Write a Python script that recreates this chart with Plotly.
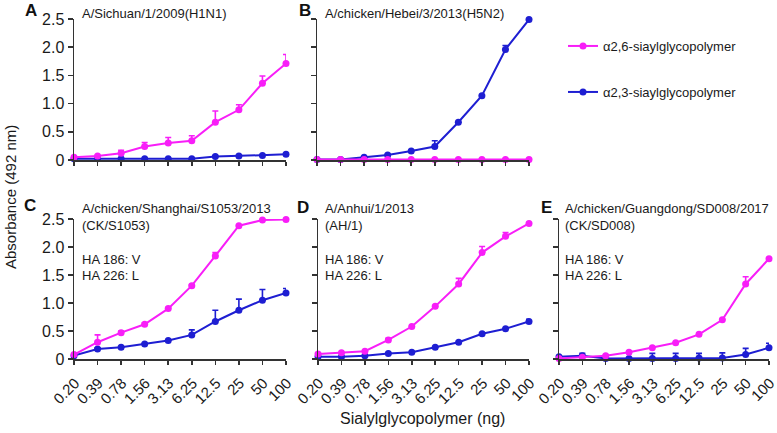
import plotly.graph_objects as go

# ---------------- data ----------------
doses = ["0.20", "0.39", "0.78", "1.56", "3.13", "6.25", "12.5", "25", "50", "100"]
y_ticks = [0, 0.5, 1.0, 1.5, 2.0, 2.5]
y_ticktext = ["0", "0.5", "1.0", "1.5", "2.0", "2.5"]

series_names = ["α2,6-siaylglycopolymer", "α2,3-siaylglycopolymer"]

a26_A = [0.05, 0.07, 0.12, 0.24, 0.30, 0.34, 0.67, 0.89, 1.36, 1.71]
a26_A_err = [0, 0, 0.05, 0.07, 0.10, 0.09, 0.20, 0.09, 0.13, 0.16]
a23_A = [0.02, 0.02, 0.02, 0.02, 0.02, 0.02, 0.06, 0.07, 0.08, 0.10]
a23_A_err = [0, 0, 0, 0, 0, 0, 0, 0, 0, 0]

a26_B = [0.01, 0.01, 0.01, 0.01, 0.01, 0.01, 0.01, 0.01, 0.01, 0.01]
a26_B_err = [0, 0, 0, 0, 0, 0, 0, 0, 0, 0]
a23_B = [0.01, 0.01, 0.05, 0.09, 0.16, 0.24, 0.67, 1.14, 1.96, 2.49]
a23_B_err = [0, 0, 0, 0, 0, 0.10, 0, 0, 0.07, 0]

a26_C = [0.08, 0.30, 0.47, 0.62, 0.90, 1.31, 1.84, 2.38, 2.48, 2.49]
a26_C_err = [0, 0.13, 0.03, 0.02, 0.02, 0.02, 0.06, 0, 0, 0]
a23_C = [0.06, 0.18, 0.21, 0.27, 0.33, 0.43, 0.67, 0.87, 1.05, 1.18]
a23_C_err = [0, 0.02, 0, 0, 0, 0.09, 0.20, 0.20, 0.19, 0.08]

a26_D = [0.09, 0.11, 0.14, 0.34, 0.58, 0.94, 1.34, 1.90, 2.19, 2.42]
a26_D_err = [0, 0, 0, 0.03, 0, 0, 0.10, 0.11, 0.07, 0]
a23_D = [0.04, 0.04, 0.06, 0.10, 0.12, 0.21, 0.30, 0.45, 0.54, 0.67]
a23_D_err = [0, 0, 0, 0, 0, 0, 0, 0, 0, 0.04]

a26_E = [0.01, 0.03, 0.06, 0.12, 0.20, 0.29, 0.44, 0.70, 1.34, 1.79]
a26_E_err = [0, 0, 0, 0, 0, 0, 0, 0, 0.13, 0]
a23_E = [0.04, 0.06, 0.01, 0.01, 0.01, 0.01, 0.02, 0.02, 0.08, 0.20]
a23_E_err = [0, 0.04, 0, 0, 0.09, 0.09, 0.08, 0.09, 0.11, 0.08]

panel_letters = ["A", "B", "C", "D", "E"]
panel_titles = [
    ["A/Sichuan/1/2009(H1N1)"],
    ["A/chicken/Hebei/3/2013(H5N2)"],
    ["A/chicken/Shanghai/S1053/2013", "(CK/S1053)"],
    ["A/Anhui/1/2013", "(AH/1)"],
    ["A/chicken/Guangdong/SD008/2017", "(CK/SD008)"],
]
panel_notes = [[], [], ["HA 186: V", "HA 226: L"], ["HA 186: V", "HA 226: L"], ["HA 186: V", "HA 226: L"]]

x_title = "Sialylglycopolymer (ng)"
y_title = "Absorbance (492 nm)"

# ---------------- layout helpers ----------------
W, H = 777, 433
MAG = "#F81EF8"
BLU = "#1E1ED2"
FONT = "Arial, Liberation Sans, sans-serif"


def fx(p):
    return p / W


def fy(p):
    return 1 - p / H


# pixel boxes of each panel: (x0, x1, ytop, ybottom)
boxes = [
    (74, 286, 19, 160),
    (317, 529, 19, 160),
    (74, 286, 219, 359),
    (318, 529, 219, 359),
    (559, 769, 219, 359),
]

data26 = [(a26_A, a26_A_err), (a26_B, a26_B_err), (a26_C, a26_C_err), (a26_D, a26_D_err), (a26_E, a26_E_err)]
data23 = [(a23_A, a23_A_err), (a23_B, a23_B_err), (a23_C, a23_C_err), (a23_D, a23_D_err), (a23_E, a23_E_err)]

xidx = list(range(len(doses)))

fig = go.Figure()
layout = dict(
    width=W, height=H,
    margin=dict(l=0, r=0, t=0, b=0, pad=0, autoexpand=False),
    paper_bgcolor="white", plot_bgcolor="white",
    font=dict(family=FONT, color="#1a1a1a"),
    showlegend=True,
)

annotations = []

for i in range(5):
    sfx = "" if i == 0 else str(i + 1)
    xa, ya = "x" + sfx, "y" + sfx
    x0, x1, yt, yb = boxes[i]
    bottom = i >= 2
    first_col = i in (0, 2)

    for (vals, err), color, name, leg in [
        (data23[i], BLU, series_names[1], "legend2"),
        (data26[i], MAG, series_names[0], "legend"),
    ]:
        fig.add_trace(go.Scatter(
            x=xidx, y=vals, xaxis=xa, yaxis=ya,
            mode="lines+markers", name=name,
            line=dict(color=color, width=2),
            marker=dict(color=color, size=7, symbol="circle"),
            error_y=dict(type="data", array=err, arrayminus=[0] * len(err), symmetric=False,
                         color=color, thickness=1.6, width=3),
            cliponaxis=False,
            showlegend=(i == 0), legend=leg,
        ))

    layout["xaxis" + sfx] = dict(
        domain=[fx(x0), fx(x1)], anchor=ya, range=[0, 9], automargin=False,
        tickmode="array", tickvals=xidx, ticktext=doses,
        showticklabels=bottom, tickangle=-45,
        ticklabelstandoff=4, ticklabelshift=1, ticklabeloverflow="allow",
        tickfont=dict(size=15, family=FONT, color="#1a1a1a"),
        ticks="outside", ticklen=4, tickwidth=1.5, tickcolor="#333",
        showline=True, linecolor="#333", linewidth=1.5,
        showgrid=False, zeroline=False, fixedrange=True,
    )
    layout["yaxis" + sfx] = dict(
        domain=[fy(yb), fy(yt)], anchor=xa, range=[0, 2.5], automargin=False,
        tickmode="array", tickvals=y_ticks, ticktext=y_ticktext,
        showticklabels=first_col, ticklabeloverflow="allow",
        tickfont=dict(size=16, family=FONT, color="#1a1a1a"),
        ticks="outside", ticklen=5, tickwidth=1.5, tickcolor="#333",
        showline=True, linecolor="#333", linewidth=1.5,
        showgrid=False, zeroline=False, fixedrange=True,
    )

# panel letters, titles and notes (pixel positions)
letter_pos = [(31, 11), (305, 11), (30, 206), (303, 207), (546, 207)]
title_x = [80, 323, 80, 323, 563]
title_y0 = [14, 14, 209, 209, 209]
note_y0 = 259
for i in range(5):
    lx, ly = letter_pos[i]
    annotations.append(dict(text="<b>%s</b>" % panel_letters[i], x=fx(lx), y=fy(ly),
                            xref="paper", yref="paper", showarrow=False,
                            xanchor="center", yanchor="middle",
                            font=dict(size=17, family=FONT, color="#111")))
    for k, line in enumerate(panel_titles[i]):
        annotations.append(dict(text=line, x=fx(title_x[i]), y=fy(title_y0[i] + 16 * k),
                                xref="paper", yref="paper", showarrow=False,
                                xanchor="left", yanchor="middle",
                                font=dict(size=13, family=FONT, color="#1a1a1a")))
    for k, line in enumerate(panel_notes[i]):
        annotations.append(dict(text=line, x=fx(title_x[i]), y=fy(note_y0 + 16 * k),
                                xref="paper", yref="paper", showarrow=False,
                                xanchor="left", yanchor="middle",
                                font=dict(size=13, family=FONT, color="#1a1a1a")))

annotations.append(dict(text=y_title, x=fx(10), y=fy(197), xref="paper", yref="paper",
                        showarrow=False, textangle=-90, xanchor="center", yanchor="middle",
                        font=dict(size=15, family=FONT, color="#1a1a1a")))
annotations.append(dict(text=x_title, x=fx(422), y=fy(418), xref="paper", yref="paper",
                        showarrow=False, xanchor="center", yanchor="middle",
                        font=dict(size=16, family=FONT, color="#1a1a1a")))

layout["annotations"] = annotations
leg_common = dict(xanchor="left", yanchor="middle", bgcolor="rgba(0,0,0,0)", borderwidth=0,
                  font=dict(size=13, family=FONT, color="#1a1a1a"), itemwidth=30)
layout["legend"] = dict(x=fx(563), y=fy(46), **leg_common)
layout["legend2"] = dict(x=fx(563), y=fy(92), **leg_common)

fig.update_layout(**layout)
fig.write_html("out.html", config={"staticPlot": True},
               post_script="document.body.style.margin='0';")
